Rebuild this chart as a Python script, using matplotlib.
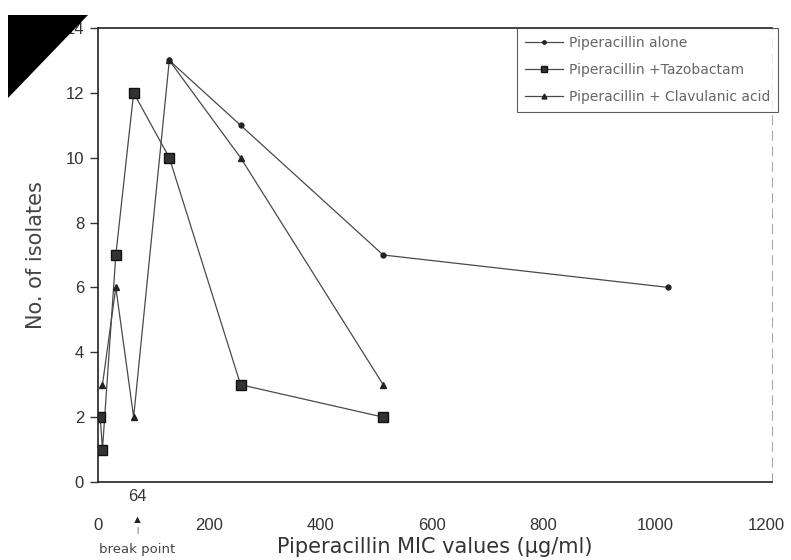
import matplotlib
matplotlib.use("Agg")
import matplotlib.pyplot as plt
from matplotlib.patches import Polygon

plt.rcParams['font.family'] = ['Liberation Sans', 'DejaVu Sans']

# Data
alone_x = [128, 256, 512, 1024]
alone_y = [13, 11, 7, 6]
tazo_x = [4, 8, 32, 64, 128, 256, 512]
tazo_y = [2, 1, 7, 12, 10, 3, 2]
clav_x = [8, 32, 64, 128, 256, 512]
clav_y = [3, 6, 2, 13, 10, 3]
labels = ["Piperacillin alone", "Piperacillin +Tazobactam", "Piperacillin + Clavulanic acid"]
xticks = [0, 200, 400, 600, 800, 1000, 1200]
yticks = [0, 2, 4, 6, 8, 10, 12, 14]
breakpoint = 64

fig = plt.figure(figsize=(7.91, 5.60), dpi=100)
ax = fig.add_axes([98/791, 1-482/560, (772-98)/791, (482-28)/560])

lc = '#4a4a4a'
ax.plot(alone_x, alone_y, color=lc, lw=0.9, marker='o', ms=3.5, mfc='#222', mec='#222', label=labels[0])
ax.plot(tazo_x, tazo_y, color=lc, lw=0.9, marker='s', ms=6.5, mfc='#333', mec='#111', label=labels[1])
ax.plot(clav_x, clav_y, color=lc, lw=0.9, marker='^', ms=5, mfc='#222', mec='#222', label=labels[2])

ax.set_xlim(0, 1210)
ax.set_ylim(0, 14)
ax.set_xticks(xticks)
ax.set_yticks(yticks)
ax.tick_params(axis='x', length=0, pad=26, labelsize=12, colors='#333')
ax.tick_params(axis='y', length=6, width=1, direction='out', pad=4, labelsize=12, colors='#333')
for s in ['top', 'bottom', 'left']:
    ax.spines[s].set_color('#222')
    ax.spines[s].set_linewidth(1.2)
ax.spines['right'].set_color('#aaa')
ax.spines['right'].set_linestyle((0, (8, 6)))
ax.spines['right'].set_linewidth(0.8)

ax.set_ylabel("No. of isolates", fontsize=15, color='#444', labelpad=14,
              family=['DejaVu Sans'])
ax.set_xlabel("Piperacillin MIC values (\u00b5g/ml)", fontsize=15, color='#333', labelpad=3,
              family=['DejaVu Sans'])

tr = ax.get_xaxis_transform()
ax.text(breakpoint + 6, -0.032, "64", transform=tr, ha='center', va='center', fontsize=12, color='#333')
ax.text(breakpoint + 6, -0.083, "\u25b2", transform=tr, ha='center', va='center', fontsize=8, color='#222')
ax.text(breakpoint + 6, -0.107, "|", transform=tr, ha='center', va='center', fontsize=6, color='#333')
ax.text(breakpoint + 6, -0.148, "break point", transform=tr, ha='center', va='center', fontsize=9.5,
        color='#444', family=['DejaVu Sans'])

leg = ax.legend(loc='upper right', bbox_to_anchor=(1.009, 1.0), frameon=True,
                prop={'family': 'DejaVu Sans', 'size': 10}, markerscale=0.7,
                fancybox=False, borderaxespad=0, handlelength=2.8, labelspacing=0.95,
                borderpad=0.55, handletextpad=0.4)
leg.get_frame().set_edgecolor('#333')
leg.get_frame().set_linewidth(0.8)
for t in leg.get_texts():
    t.set_color('#666')

tri = Polygon([(8/791, 1-15/560), (88/791, 1-15/560), (8/791, 1-98/560)],
              closed=True, transform=fig.transFigure, facecolor='black', edgecolor='none', zorder=5)
fig.patches.append(tri)

fig.savefig("out.png", dpi=100)
